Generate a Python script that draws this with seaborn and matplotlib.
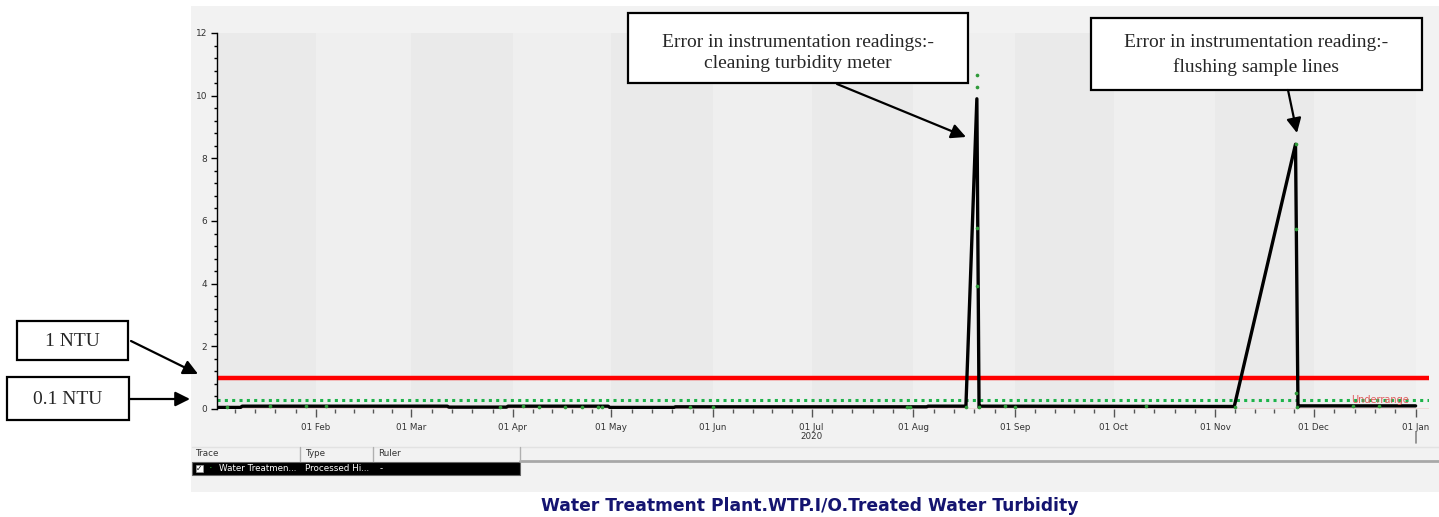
import matplotlib
matplotlib.use("Agg")
import matplotlib.pyplot as plt
from matplotlib.patches import Rectangle, FancyArrowPatch
import seaborn as sns
import pandas as pd
import numpy as np

# trend (processed history) of treated water turbidity, NTU
trend_time = ["2020-01-01", "2020-01-09", "2020-01-09 12:00", "2020-03-12", "2020-03-12 12:00",
              "2020-03-30", "2020-03-30 12:00", "2020-04-30", "2020-04-30 12:00", "2020-05-20",
              "2020-05-20 12:00", "2020-08-05", "2020-08-05 12:00", "2020-08-17", "2020-08-20 08:00",
              "2020-08-21", "2020-08-21 12:00", "2020-11-06 18:00", "2020-11-25 10:00",
              "2020-11-26 04:00", "2020-11-26 12:00", "2021-01-01"]
trend_ntu = [0.05, 0.05, 0.09, 0.09, 0.06,
             0.06, 0.09, 0.09, 0.05, 0.05,
             0.07, 0.07, 0.09, 0.09, 9.9,
             0.05, 0.09, 0.08, 8.45,
             0.06, 0.10, 0.10]

# raw samples (green points)
sample_time = ["2020-01-05", "2020-01-18", "2020-01-29", "2020-02-04", "2020-03-28", "2020-04-04",
               "2020-04-09", "2020-04-17", "2020-04-22", "2020-04-27", "2020-04-28", "2020-05-25",
               "2020-06-01", "2020-07-30", "2020-07-31", "2020-08-17", "2020-08-20 12:00",
               "2020-08-20 12:00", "2020-08-20 12:00", "2020-08-20 12:00", "2020-08-21",
               "2020-08-29", "2020-09-01", "2020-10-11", "2020-11-07", "2020-11-25 12:00",
               "2020-11-25 12:00", "2020-11-25 16:00", "2020-11-26", "2020-12-13", "2020-12-21"]
sample_ntu = [0.07, 0.08, 0.08, 0.08, 0.07, 0.08,
              0.07, 0.07, 0.07, 0.07, 0.07, 0.07,
              0.07, 0.07, 0.07, 0.07, 10.65,
              10.27, 5.78, 3.93, 0.07,
              0.08, 0.07, 0.08, 0.07, 8.46,
              5.74, 0.50, 0.06, 0.08, 0.08]

limit_1ntu = 1.0
limit_low = 0.3
month_labels = ["01 Feb", "01 Mar", "01 Apr", "01 May", "01 Jun", "01 Jul",
                "01 Aug", "01 Sep", "01 Oct", "01 Nov", "01 Dec", "01 Jan"]
year_label = "2020"
title = "Water Treatment Plant.WTP.I/O.Treated Water Turbidity"
note_1 = "Error in instrumentation readings:-\ncleaning turbidity meter"
note_2 = "Error in instrumentation reading:-\nflushing sample lines"

trend = pd.DataFrame({"time": pd.to_datetime(trend_time, format="mixed"), "ntu": trend_ntu})
samples = pd.DataFrame({"time": pd.to_datetime(sample_time, format="mixed"), "ntu": sample_ntu})

sns.set_style("white")
plt.rcParams["font.family"] = ["DejaVu Sans"]

W, H = 1439, 517
fig = plt.figure(figsize=(W / 100, H / 100), dpi=100)
fig.patch.set_facecolor("white")


def fx(x):
    return x / W


def fy(y):
    return 1 - y / H


# grey trend panel
fig.add_artist(Rectangle((fx(191), fy(492)), fx(W - 191), (492 - 6) / H,
                         transform=fig.transFigure, facecolor="#f2f2f2", edgecolor="none", zorder=0))

ax = fig.add_axes([fx(217), fy(409), (1429 - 217) / W, (409 - 33) / H])
ax.set_facecolor("#f2f2f2")

# monthly background bands
starts = pd.date_range("2020-01-01", "2021-01-01", freq="MS")
for i in range(len(starts) - 1):
    ax.axvspan(starts[i], starts[i + 1], color="#eaeaea" if i % 2 == 0 else "#efefef", lw=0, zorder=0)

ax.set_xlim(pd.Timestamp("2020-01-01 20:00"), pd.Timestamp("2021-01-05 02:00"))
ax.set_ylim(0, 12)

ax.axhline(0, color="#e87070", lw=1, zorder=1)
ax.axhline(limit_1ntu, color="#ff0000", lw=3.2, zorder=2)
ax.axhline(limit_low, color="#1db34a", lw=2.2, linestyle=(0, (1, 1.4)), zorder=2)

sns.lineplot(data=trend, x="time", y="ntu", color="black", lw=2.4, ax=ax, zorder=3)
sns.scatterplot(data=samples, x="time", y="ntu", color="#2f9a3a", s=7, linewidth=0, ax=ax, zorder=4)

ax.text(pd.Timestamp("2020-12-30"), limit_low, "Underrange", color="#e05a5a", fontsize=7,
        ha="right", va="center", zorder=5)

# axes styling
for s in ["top", "right", "bottom"]:
    ax.spines[s].set_visible(False)
ax.spines["left"].set_color("black")
ax.spines["left"].set_linewidth(1)
ax.set_xlabel("")
ax.set_ylabel("")

ax.set_yticks(np.arange(0, 13, 2))
ax.set_yticklabels([str(v) for v in range(0, 13, 2)])
ax.set_yticks(np.arange(0, 12.01, 0.4), minor=True)
ax.tick_params(axis="y", which="major", length=4, width=1, color="black", labelsize=6.5,
               labelcolor="#333333", pad=3, left=True)
ax.tick_params(axis="y", which="minor", length=2, width=1, color="black", left=True)

ax.set_xticks(starts[1:])
ax.set_xticklabels(month_labels)
minor = []
for i in range(len(starts) - 1):
    minor += list(pd.date_range(starts[i], starts[i + 1], periods=6)[1:-1])
ax.set_xticks(minor, minor=True)
ax.tick_params(axis="x", which="major", length=6, width=1, color="#555555", labelsize=6.3,
               labelcolor="#333333", pad=4, bottom=True)
ax.tick_params(axis="x", which="minor", length=3, width=1, color="#555555", bottom=True)
ax.grid(False)

ax.text(pd.Timestamp("2020-07-01"), -0.072, year_label, transform=ax.get_xaxis_transform(),
        fontsize=6.3, color="#333333", ha="center", va="center")
ax.plot([starts[-1], starts[-1]], [-0.06, -0.09], transform=ax.get_xaxis_transform(),
        color="#888888", lw=1.2, clip_on=False)

# trace table under the chart
fig.add_artist(plt.Line2D([fx(192), fx(W)], [fy(447), fy(447)], color="#e2e2e2", lw=1))
fig.add_artist(plt.Line2D([fx(520), fx(W)], [fy(461), fy(461)], color="#a8a8a8", lw=2))
for sx in [300, 373, 520]:
    fig.add_artist(plt.Line2D([fx(sx), fx(sx)], [fy(447), fy(461)], color="#b0b0b0", lw=1))
for tx, tt in [(195, "Trace"), (305, "Type"), (378, "Ruler")]:
    fig.text(fx(tx), fy(454), tt, fontsize=6.3, color="#333333", va="center")
fig.add_artist(Rectangle((fx(192), fy(475)), fx(520 - 192), 13 / H, transform=fig.transFigure,
                         facecolor="black", edgecolor="#666666", lw=0.8))
fig.add_artist(Rectangle((fx(196), fy(472)), fx(7), 7 / H, transform=fig.transFigure,
                         facecolor="white", edgecolor="#999999", lw=0.5))
fig.text(fx(199.5), fy(468.5), "✓", fontsize=5.5, color="black", ha="center", va="center")
fig.text(fx(211), fy(468.5), "·", fontsize=8, color="#33cc33", ha="center", va="center")
for tx, tt in [(219, "Water Treatmen..."), (305, "Processed Hi..."), (380, "-")]:
    fig.text(fx(tx), fy(468.5), tt, fontsize=6.3, color="white", va="center")

fig.text(fx(810), fy(506), title, fontsize=12.3, fontweight="bold", color="#141470",
         ha="center", va="center")

# call-out boxes
serif = ["Liberation Serif", "DejaVu Serif"]


def box(x0, y0, x1, y1):
    fig.add_artist(Rectangle((fx(x0), fy(y1)), fx(x1 - x0), (y1 - y0) / H, transform=fig.transFigure,
                             facecolor="white", edgecolor="black", lw=1.6, zorder=10))


def arrow(x0, y0, x1, y1):
    fig.add_artist(FancyArrowPatch(
        (fx(x0), fy(y0)), (fx(x1), fy(y1)), transform=fig.transFigure, arrowstyle="-|>",
        mutation_scale=22, lw=1.6, color="black", shrinkA=0, shrinkB=0, zorder=11))


box(17, 321, 128, 360)
fig.text(fx(72.5), fy(341), "1 NTU", family=serif, fontsize=14, ha="center", va="center", zorder=12)
box(7, 377, 129, 420)
fig.text(fx(68), fy(399), "0.1 NTU", family=serif, fontsize=14, ha="center", va="center", zorder=12)
box(628, 13, 968, 83)
fig.text(fx(798), fy(53), note_1, family=serif, fontsize=14, ha="center", va="center",
         linespacing=1.3, zorder=12)
box(1091, 18, 1422, 90)
fig.text(fx(1256), fy(55), note_2, family=serif, fontsize=14, ha="center", va="center",
         linespacing=1.55, zorder=12)

arrow(131, 341, 198, 374)
arrow(130, 399, 190, 399)
arrow(837, 84, 966, 137)
arrow(1288, 90, 1297, 133)

fig.savefig("out.png", dpi=100, facecolor=fig.get_facecolor())
